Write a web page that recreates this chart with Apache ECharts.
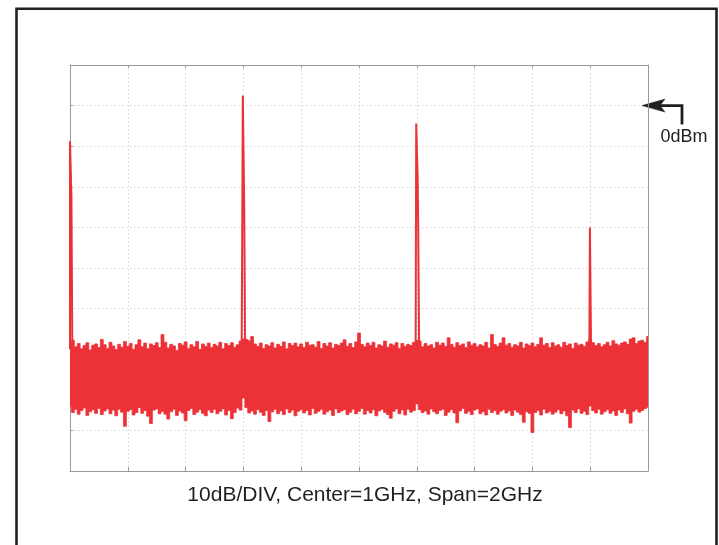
<!DOCTYPE html>
<html><head><meta charset="utf-8">
<script src="https://cdn.jsdelivr.net/npm/echarts@6/dist/echarts.min.js"></script>
<style>html,body{margin:0;padding:0;background:#fff}#c{width:719px;height:545px}</style>
</head><body><div id="c"></div>
<script>
// Frequency axis (GHz) and level axis (dBm)
const freqMin = 0, freqMax = 2, freqStep = 0.2;
const levelMin = -90, levelMax = 10, levelStep = 10;
const binStep = 0.01; // noise envelope bins, GHz
const refLevelLabel = '0dBm';
const refLevel = 0;
const footerText = '10dB/DIV, Center=1GHz, Span=2GHz';

// noise envelope (upper edge) per 10 MHz bin, dBm
const noiseMax = [
 -58.2,-57.8,-59.4,-58.6,-59.9,-59.1,-58.4,-60.2,-59.0,-58.7,
 -59.6,-57.6,-58.9,-59.8,-58.3,-59.2,-60.1,-58.8,-59.5,-58.1,
 -59.3,-58.6,-60.0,-58.9,-57.7,-59.4,-58.5,-59.9,-58.7,-59.1,
 -58.4,-59.6,-56.4,-58.3,-59.7,-58.8,-59.2,-60.3,-58.6,-59.0,
 -58.2,-59.8,-58.9,-59.4,-58.1,-60.0,-58.7,-59.3,-58.5,-59.6,
 -58.8,-59.2,-58.3,-59.9,-58.6,-59.1,-58.4,-59.5,-58.9,-58.0,
 -57.5,-57.6,-57.9,-56.9,-58.7,-59.3,-58.5,-59.8,-58.9,-59.2,
 -58.4,-59.7,-58.8,-59.3,-58.2,-59.9,-58.6,-59.1,-58.5,-59.4,
 -58.7,-59.6,-58.3,-59.0,-58.9,-59.5,-58.1,-59.8,-58.6,-59.2,
 -58.4,-59.7,-58.8,-59.1,-58.5,-57.7,-59.3,-58.6,-59.6,-58.2,
 -56.0,-58.8,-59.4,-58.5,-59.1,-58.3,-59.7,-58.9,-59.2,-58.0,
 -59.5,-58.7,-59.0,-58.4,-59.8,-58.6,-59.3,-58.8,-59.1,-58.3,
 -57.8,-58.0,-59.4,-58.6,-59.2,-58.9,-59.7,-58.3,-59.0,-58.5,
 -59.3,-57.2,-58.8,-59.5,-58.4,-59.1,-58.7,-59.6,-58.2,-59.0,
 -58.6,-59.4,-58.9,-59.2,-58.3,-59.7,-56.4,-58.8,-59.3,-58.5,
 -57.2,-59.0,-58.6,-59.5,-58.9,-59.2,-58.3,-59.7,-58.7,-59.1,
 -58.5,-59.4,-58.8,-57.2,-59.0,-58.6,-59.6,-58.4,-59.2,-58.9,
 -59.5,-58.3,-59.1,-58.7,-59.8,-58.5,-59.0,-58.8,-59.3,-58.2,
 -57.6,-58.4,-59.1,-58.6,-59.4,-58.9,-58.3,-59.2,-57.9,-58.7,
 -59.0,-58.5,-58.2,-58.8,-57.5,-57.2,-58.6,-58.0,-57.8,-58.3,
 -56.9
];
// noise envelope (lower edge) per 10 MHz bin, dBm
const noiseMin = [
 -74.2,-75.6,-74.8,-76.0,-75.1,-74.5,-76.3,-75.4,-74.9,-75.8,
 -74.6,-76.1,-75.2,-74.7,-75.9,-75.0,-76.4,-74.8,-75.5,-79.0,
 -75.3,-74.9,-76.2,-75.6,-74.4,-75.8,-75.1,-76.5,-78.3,-75.0,
 -74.7,-75.9,-75.3,-76.0,-77.2,-75.4,-74.8,-76.3,-75.2,-75.7,
 -77.6,-75.1,-74.6,-76.1,-75.5,-74.9,-75.8,-76.4,-75.0,-75.6,
 -74.8,-75.9,-75.3,-74.7,-76.2,-75.1,-77.1,-75.6,-74.5,-75.0,
 -72.0,-74.4,-75.7,-75.2,-76.0,-74.9,-75.5,-76.3,-75.1,-77.8,
 -75.4,-74.8,-75.9,-75.2,-76.1,-74.7,-75.6,-75.0,-76.4,-75.3,
 -74.9,-75.7,-75.1,-76.2,-74.6,-75.8,-75.3,-74.8,-76.0,-75.4,
 -75.0,-76.3,-74.7,-75.6,-75.2,-74.9,-76.1,-75.5,-74.8,-75.9,
 -75.3,-74.6,-76.0,-75.1,-75.7,-74.9,-76.4,-75.2,-74.8,-75.6,
 -76.1,-77.0,-75.3,-74.7,-75.9,-75.0,-76.2,-74.8,-75.5,-75.1,
 -73.5,-74.9,-75.6,-75.2,-76.0,-74.7,-75.4,-75.9,-75.1,-74.8,
 -76.3,-75.5,-74.9,-75.7,-78.1,-75.2,-74.6,-75.8,-75.3,-76.1,
 -75.0,-74.7,-75.9,-75.4,-76.2,-74.8,-75.6,-75.1,-76.0,-75.3,
 -74.9,-75.7,-75.2,-76.3,-75.0,-75.5,-76.1,-78.0,-75.4,-75.8,
 -80.5,-75.6,-75.1,-76.2,-74.8,-75.7,-75.3,-76.0,-75.5,-74.9,
 -75.9,-75.2,-76.4,-79.3,-75.0,-75.6,-74.7,-75.8,-75.3,-76.1,
 -74.0,-75.1,-75.7,-74.8,-76.0,-75.4,-74.9,-75.8,-75.2,-76.3,
 -75.0,-75.6,-74.7,-75.9,-78.2,-75.3,-74.8,-75.5,-75.1,-74.6,
 -74.3
];
// spectral lines: [GHz, dBm] trace points
const spikeDC    = [[0.000,-60],[0.000,-8.75],[0.004,-8.75],[0.005,-22.6],[0.007,-22.6],[0.008,-60]];
const spike600M  = [[0.594,-60],[0.597,-15],[0.598,2.5],[0.601,2.5],[0.603,-26],[0.606,-60]];
const spike1200M = [[1.196,-60],[1.198,-4.4],[1.201,-4.4],[1.203,-18.2],[1.205,-31],[1.208,-60]];
const spike1800M = [[1.797,-60],[1.799,-30],[1.801,-30],[1.803,-60]];

const RED = '#ec3237';
const INK = '#231f20';
const noiseData = noiseMax.map((hi, i) => [+(i * binStep).toFixed(3), noiseMin[i], hi]);
const spikeData = [].concat(spikeDC, [[null,null]], spike600M, [[null,null]], spike1200M, [[null,null]], spike1800M);

const chart = echarts.init(document.getElementById('c'), null, {renderer: 'canvas'});
const gridLine = {show: true, lineStyle: {color: '#d6d6d6', width: 1, type: [1.5, 2.5]}};
const axisLn = {show: true, onZero: false, lineStyle: {color: '#9a9a9a', width: 1}};
const tickStyle = {color: '#9a9a9a', width: 1};
chart.setOption({
  animation: false,
  backgroundColor: '#fff',
  grid: {left: 70, top: 65, width: 578, height: 406, containLabel: false},
  xAxis: [
    {type: 'value', min: freqMin, max: freqMax, interval: freqStep, position: 'bottom',
     axisLine: axisLn, axisTick: {show: true, inside: true, length: 4, lineStyle: tickStyle},
     axisLabel: {show: false}, splitLine: gridLine},
    {type: 'value', min: freqMin, max: freqMax, interval: freqStep, position: 'top',
     axisLine: axisLn, axisTick: {show: true, inside: true, length: 3, lineStyle: tickStyle},
     axisLabel: {show: false}, splitLine: {show: false}}
  ],
  yAxis: [
    {type: 'value', min: levelMin, max: levelMax, interval: levelStep, position: 'left',
     axisLine: axisLn, axisTick: {show: true, inside: true, length: 3, lineStyle: tickStyle},
     axisLabel: {show: false}, splitLine: gridLine},
    {type: 'value', min: levelMin, max: levelMax, interval: levelStep, position: 'right',
     axisLine: axisLn, axisTick: {show: false}, axisLabel: {show: false}, splitLine: {show: false}}
  ],
  series: [
    {type: 'custom', xAxisIndex: 0, yAxisIndex: 0, data: noiseData, clip: true,
     encode: {x: 0, y: [1, 2]},
     renderItem: function (params, api) {
       if (params.dataIndex !== 0) return null;
       const h = binStep / 2;
       const clampF = f => Math.min(freqMax, Math.max(freqMin, f));
       const top = [], bot = [];
       for (let i = 0; i < noiseData.length; i++) {
         const f = noiseData[i][0];
         top.push(api.coord([clampF(f - h), noiseData[i][2]]));
         top.push(api.coord([clampF(f + h), noiseData[i][2]]));
         bot.push(api.coord([clampF(f - h), noiseData[i][1]]));
         bot.push(api.coord([clampF(f + h), noiseData[i][1]]));
       }
       const pts = top.concat(bot.reverse());
       return {type: 'polygon', shape: {points: pts}, style: {fill: RED, stroke: RED, lineWidth: 0.8}};
     }},
    {type: 'line', xAxisIndex: 0, yAxisIndex: 0, data: spikeData, showSymbol: false, symbol: 'none',
     connectNulls: false, clip: true, lineStyle: {color: RED, width: 2}}
  ]
});

const y0 = chart.convertToPixel({yAxisIndex: 0}, refLevel);
const xr = chart.convertToPixel({xAxisIndex: 0}, freqMax);
chart.setOption({
  graphic: [
    {type: 'rect', shape: {x: 16.5, y: 8.8, width: 700, height: 620},
     style: {fill: null, stroke: INK, lineWidth: 2.6}, silent: true},
    {type: 'polyline', shape: {points: [[xr + 34, y0 + 19], [xr + 34, y0], [xr + 12, y0]]},
     style: {fill: null, stroke: INK, lineWidth: 2.8}},
    {type: 'polygon', shape: {points: [[xr - 6, y0], [xr + 17, y0 - 6.5], [xr + 12, y0], [xr + 17, y0 + 6.5]]},
     style: {fill: INK, stroke: INK, lineWidth: 0.5}},
    {type: 'text', x: xr + 36, y: y0 + 31.5,
     style: {text: refLevelLabel, fill: INK, font: '18px "Liberation Sans", Arial, sans-serif',
             align: 'center', verticalAlign: 'middle'}},
    {type: 'text', x: 365, y: 495,
     style: {text: footerText, fill: INK, font: '21px "Liberation Sans", Arial, sans-serif',
             align: 'center', verticalAlign: 'middle'}}
  ]
});
</script>
</body></html>
